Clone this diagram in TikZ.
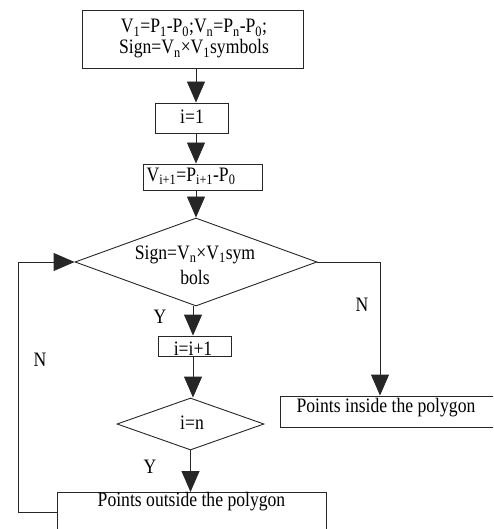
\documentclass[tikz,border=0pt]{standalone}
\usepackage{fontspec}
\setmainfont{Liberation Serif}[FakeStretch=0.86]
\usetikzlibrary{arrows.meta,shapes.geometric}
\begin{document}
\begin{tikzpicture}[x=1pt,y=-1pt,
  every node/.style={font=\fontsize{20.5}{22}\selectfont, text=black},
  box/.style={draw=black!85, line width=0.9pt, inner sep=0pt, rectangle},
  dia/.style={draw=black!85, line width=0.9pt, inner sep=0pt, diamond},
  conn/.style={draw=black!85, line width=0.9pt, -{Triangle[width=18pt,length=21pt]}},
  lbl/.style={inner sep=0pt}]
\useasboundingbox (0,0) rectangle (493,529);
\clip (0,0) rectangle (493,529);
% boxes
\node[box, minimum width=221pt, minimum height=58pt] (top) at (192.5,39) {};
\node[lbl, align=center] (toptxt) at (194,39) {V\textsubscript{1}=P\textsubscript{1}-P\textsubscript{0};V\textsubscript{n}=P\textsubscript{n}-P\textsubscript{0};\\[-1pt]Sign=V\textsubscript{n}×V\textsubscript{1}symbols};
\node[box, minimum width=73pt, minimum height=30pt] (i1) at (191.5,118) {};
\node[lbl] (i1txt) at (192,117) {i=1};
\node[box, minimum width=119pt, minimum height=26pt] (vb) at (202.5,177) {};
\node[lbl] (vbtxt) at (191,176) {V\textsubscript{i+1}=P\textsubscript{i+1}-P\textsubscript{0}};
\node[dia, minimum width=242pt, minimum height=88pt] (d1) at (196,262) {};
\node[lbl, align=center] (d1txt) at (195,265) {Sign=V\textsubscript{n}×V\textsubscript{1}sym\\[3pt]bols};
\node[box, minimum width=73pt, minimum height=20pt] (i2) at (194.5,346) {};
\node[lbl] (i2txt) at (193,349) {i=i+1};
\node[dia, minimum width=147pt, minimum height=52pt] (d2) at (190.5,424) {};
\node[lbl] (d2txt) at (192,423) {i=n};
\node[box, minimum width=215pt, minimum height=31pt] (in) at (387.5,411.5) {};
\node[lbl] (intxt) at (386,408) {Points inside the polygon};
\node[box, minimum width=269pt, minimum height=60pt, anchor=north] (out) at (191.5,492) {};
\node[lbl] (outtxt) at (191.5,502) {Points outside the polygon};
% labels
\node[lbl] (yl1) at (160,317) {Y};
\node[lbl] (yl2) at (150,467) {Y};
\node[lbl] (nl1) at (362,305) {N};
\node[lbl] (nl2) at (40,360) {N};
% connector x positions
\coordinate (ax1) at (196,0);
\coordinate (ax2) at (193,0);
\coordinate (rx) at (380,0);
\coordinate (lx) at (18,0);
\coordinate (ly) at (0,512);
% connectors
\draw[conn] (top.south -| ax1) -- (i1.north -| ax1);
\draw[conn] (i1.south -| ax1) -- (vb.north -| ax1);
\draw[conn] (vb.south -| ax1) -- (d1.north);
\draw[conn] (d1.south -| ax2) -- (i2.north -| ax2);
\draw[conn] (i2.south -| ax2) -- (d2.north -| ax2);
\draw[conn] (d2.south) -- (out.north -| d2.south);
\draw[conn] (d1.east) -- (d1.east -| rx) -- (in.north -| rx);
\draw[conn] (out.west |- ly) -- (lx |- ly) -- (lx |- d1.west) -- (d1.west);
\end{tikzpicture}
\end{document}
